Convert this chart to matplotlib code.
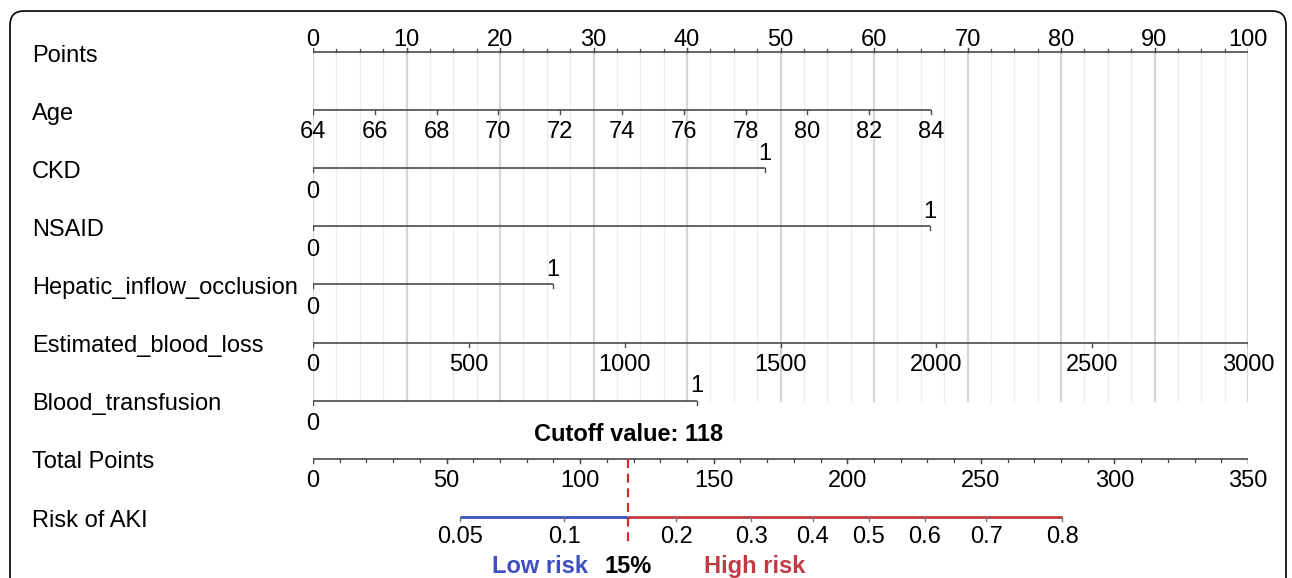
import matplotlib
matplotlib.use("Agg")
import matplotlib.pyplot as plt
import numpy as np
from matplotlib.patches import FancyBboxPatch
from matplotlib.transforms import blended_transform_factory

plt.rcParams["font.family"] = ["Liberation Sans", "DejaVu Sans"]

# ---- values -----------------------------------------------------------------
row_labels = ["Points", "Age", "CKD", "NSAID", "Hepatic_inflow_occlusion",
              "Estimated_blood_loss", "Blood_transfusion", "Total Points", "Risk of AKI"]

points_ticks = list(range(0, 101, 10))
points_minor = list(np.arange(0, 100.1, 2.5))

age_ticks = [64, 66, 68, 70, 72, 74, 76, 78, 80, 82, 84]
age_points = [0, 66.1]            # points at age 64 and at age 84

binary_rows = ["CKD", "NSAID", "Hepatic_inflow_occlusion", "Blood_transfusion"]
binary_points = [48.3, 66.0, 25.7, 41.1]   # points given for "1"

blood_loss_ticks = [0, 500, 1000, 1500, 2000, 2500, 3000]
blood_loss_points = [0, 100]

total_ticks = [0, 50, 100, 150, 200, 250, 300, 350]
total_minor = list(range(0, 351, 10))
total_max = 350                    # total points spanned by the 0-100 points scale

risk_ticks = [0.05, 0.1, 0.2, 0.3, 0.4, 0.5, 0.6, 0.7, 0.8]
risk_at_total = [55, 94, 136, 164, 187, 208, 229, 252, 280.4]

cutoff_total = 118
cutoff_label = "15%"

# ---- style -----------------------------------------------------------------
AXIS = "#4a4a4a"
BLUE = "#3d4fc1"
RED = "#c23a44"
DASH_RED = "#d42a2a"
FS = 17
TICK = 0.07          # tick length in row units


def tot2pts(v):
    return np.asarray(v, dtype=float) * 100.0 / total_max


W, H = 1292, 578
fig = plt.figure(figsize=(W / 100, H / 100), dpi=100)
# x axis in "points" units: 0 at px 313, 100 at px 1248; one row per 58.1 px
ax = fig.add_axes([313 / W, 0, 935 / W, 1])
ax.set_xlim(0, 100)
ax.set_ylim((H - 52) / 58.1, -52 / 58.1)
ax.axis("off")


def put(x, y, s, dy, dx=0, va="baseline", **kw):
    ax.annotate(s, (x, y), xytext=(dx, dy), textcoords="offset points",
                ha=kw.pop("ha", "center"), va=va, fontsize=kw.pop("fontsize", FS),
                annotation_clip=False, **kw)


def scale(y, xs, labels, above, lw=1.2):
    ax.plot([xs[0], xs[-1]], [y, y], color=AXIS, lw=lw, solid_capstyle="butt")
    d = -TICK if above else TICK
    for x in xs:
        ax.plot([x, x], [y, y + d], color=AXIS, lw=1.0)
    for x, s in zip(xs, labels):
        put(x, y, s, 4.6 if above else -20.4)


# vertical grid behind the predictor rows
for v in points_minor:
    major = abs(v % 10) < 1e-9
    ax.plot([v, v], [0, 6], color="#d6d6d6" if major else "#ececec",
            lw=1.6 if major else 1.0, zorder=0)

# row names
tr = blended_transform_factory(fig.transFigure, ax.transData)
for i, name in enumerate(row_labels):
    ax.annotate(name, (32 / W, i), xycoords=tr, xytext=(0, -7.0), textcoords="offset points",
                ha="left", va="baseline", fontsize=FS, annotation_clip=False)

# Points
scale(0, points_ticks, [str(t) for t in points_ticks], above=True)
for v in points_minor:
    ax.plot([v, v], [0, -TICK * 0.7], color=AXIS, lw=0.9)

# Age
age_x = np.interp(age_ticks, [age_ticks[0], age_ticks[-1]], age_points)
scale(1, age_x, [str(a) for a in age_ticks], above=False)

# binary predictors
for name, pts in zip(binary_rows, binary_points):
    y = row_labels.index(name)
    ax.plot([0, pts], [y, y], color=AXIS, lw=1.2, solid_capstyle="butt")
    ax.plot([0, 0], [y, y + TICK], color=AXIS, lw=1.0)
    ax.plot([pts, pts], [y, y + TICK], color=AXIS, lw=1.0)
    put(0, y, "0", -21.2)
    put(pts, y, "1", 6.0)

# Estimated blood loss
bl_x = np.interp(blood_loss_ticks, [blood_loss_ticks[0], blood_loss_ticks[-1]], blood_loss_points)
scale(5, bl_x, [str(b) for b in blood_loss_ticks], above=False)

# Total points
tx = tot2pts(total_ticks)
scale(7, tx, [str(t) for t in total_ticks], above=False)
for v in tot2pts(total_minor):
    ax.plot([v, v], [7, 7 + TICK * 0.7], color=AXIS, lw=0.9)

# Risk of AKI
rx = tot2pts(risk_at_total)
cx = float(tot2pts(cutoff_total))
ax.plot([rx[0], cx], [8, 8], color=BLUE, lw=2.0, solid_capstyle="butt")
ax.plot([cx, rx[-1]], [8, 8], color=RED, lw=2.0, solid_capstyle="butt")
for x, r in zip(rx, risk_ticks):
    ax.plot([x, x], [8, 8 + TICK], color="#777777", lw=1.0)
    put(x, 8, f"{r:g}", -19.0)

# cutoff marker
ax.plot([cx, cx], [7, 8.52], color=DASH_RED, lw=1.6, linestyle=(0, (4, 2.6)), zorder=3)
put(cx, 7, f"Cutoff value: {cutoff_total}", 12.7, fontweight="bold")
put(cx, 8, cutoff_label, -40.5, fontweight="bold")
put(cx, 8, "Low risk", -40.5, dx=-63.4, fontweight="bold", color=BLUE)
put(cx, 8, "High risk", -40.5, dx=91.4, fontweight="bold", color=RED)

# rounded frame around the panel (bottom edge lies outside the crop)
frame = FancyBboxPatch((0.10, -0.3), 12.76, 5.67 + 0.3,
                       boxstyle="round,pad=0,rounding_size=0.14",
                       transform=fig.dpi_scale_trans, fill=False,
                       edgecolor="black", lw=1.2)
fig.add_artist(frame)

fig.savefig("out.png", dpi=100)
